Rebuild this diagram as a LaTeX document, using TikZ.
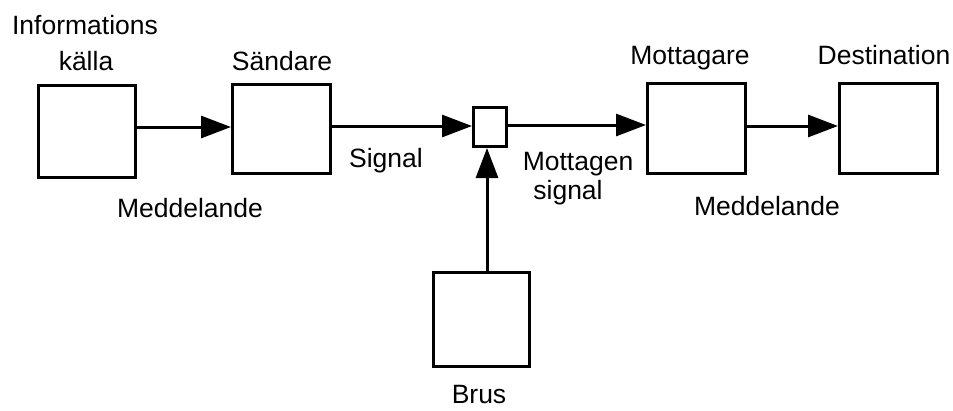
\documentclass[tikz,border=0pt]{standalone}
\usepackage{fontspec}
\setmainfont{Liberation Sans}
\usetikzlibrary{arrows.meta}
\begin{document}
\begin{tikzpicture}[x=1pt,y=-1pt,
  blk/.style={draw,line width=3pt,inner sep=0pt},
  arr/.style={line width=3pt,-{Triangle[length=30pt,width=22pt]}},
  lbl/.style={anchor=base,inner sep=0pt,font=\fontsize{26.5}{30}\selectfont}]
\useasboundingbox (0,0) rectangle (953,410);
% blocks
\node[blk,minimum width=97pt,minimum height=92pt] (src) at (87,131.5) {};
\node[blk,minimum width=98pt,minimum height=89pt] (snd) at (281.5,129) {};
\node[blk,minimum width=33pt,minimum height=39pt] (mix) at (490,127) {};
\node[blk,minimum width=98pt,minimum height=90pt] (rcv) at (696.5,128.5) {};
\node[blk,minimum width=98pt,minimum height=90pt] (dst) at (888.5,128.5) {};
\node[blk,minimum width=96pt,minimum height=94pt] (brus) at (481.5,319.5) {};
% connectors
\draw[arr] (src.east |- 0,127) -- (snd.west |- 0,127);
\draw[arr] (snd.east |- 0,126) -- (mix.west |- 0,126);
\draw[arr] (mix.east |- 0,125) -- (rcv.west |- 0,125);
\draw[arr] (rcv.east |- 0,126) -- (dst.west |- 0,126);
\draw[arr] (brus.north -| 487,0) -- (mix.south -| 487,0);
% labels
\node[lbl] (t1) at (85,34) {Informations};
\node[lbl] (t2) at (86,70) {källa};
\node[lbl] (t3) at (282,70) {Sändare};
\node[lbl] (t4) at (386,167) {Signal};
\node[lbl] (t5) at (190,217) {Meddelande};
\node[lbl] (t6) at (578,170) {Mottagen};
\node[lbl] (t7) at (568,199) {signal};
\node[lbl] (t8) at (690,64) {Mottagare};
\node[lbl] (t9) at (884,64) {Destination};
\node[lbl] (t10) at (767,215) {Meddelande};
\node[lbl] (t11) at (479,403) {Brus};
\end{tikzpicture}
\end{document}
